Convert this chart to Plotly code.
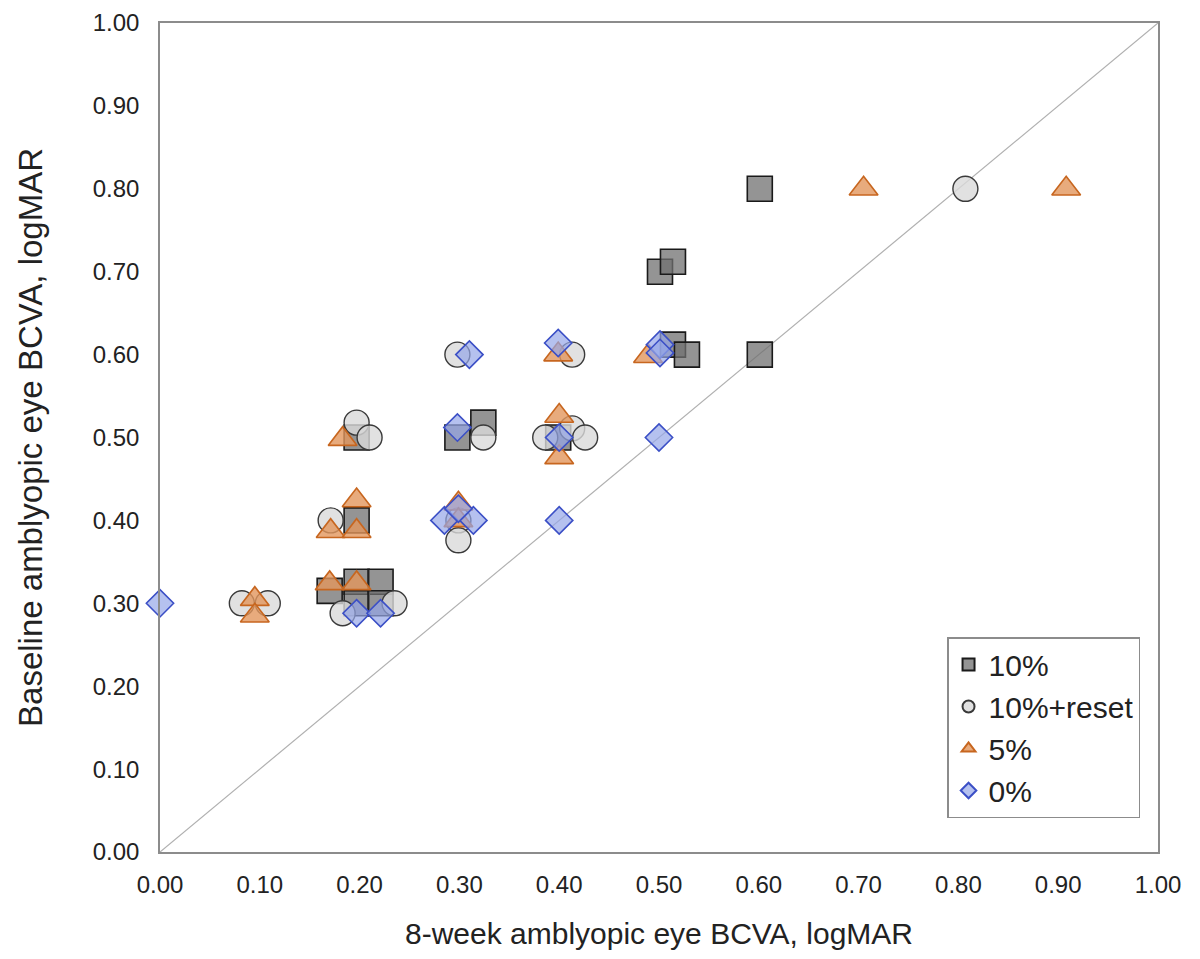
import plotly.graph_objects as go

# 10% group (squares)
sq_x = [0.601, 0.501, 0.514, 0.514, 0.528, 0.601, 0.197, 0.298, 0.324, 0.399, 0.197, 0.170, 0.197, 0.221, 0.197, 0.221]
sq_y = [0.800, 0.700, 0.712, 0.612, 0.600, 0.600, 0.500, 0.500, 0.518, 0.500, 0.400, 0.315, 0.326, 0.326, 0.300, 0.300]

# 10%+reset group (circles)
ci_x = [0.807, 0.298, 0.413, 0.197, 0.210, 0.324, 0.386, 0.413, 0.426, 0.171, 0.299, 0.299, 0.082, 0.108, 0.183, 0.235]
ci_y = [0.800, 0.600, 0.600, 0.518, 0.500, 0.500, 0.500, 0.511, 0.500, 0.400, 0.400, 0.376, 0.300, 0.300, 0.288, 0.300]

# 5% group (triangles)
tr_x = [0.705, 0.908, 0.489, 0.399, 0.183, 0.400, 0.400, 0.197, 0.171, 0.197, 0.299, 0.299, 0.095, 0.095, 0.170, 0.197]
tr_y = [0.800, 0.800, 0.598, 0.600, 0.498, 0.526, 0.476, 0.424, 0.387, 0.387, 0.420, 0.400, 0.305, 0.285, 0.324, 0.324]

# 0% group (diamonds)
di_x = [0.000, 0.197, 0.221, 0.285, 0.314, 0.299, 0.400, 0.500, 0.298, 0.400, 0.310, 0.399, 0.501, 0.501]
di_y = [0.300, 0.288, 0.288, 0.400, 0.400, 0.414, 0.400, 0.500, 0.512, 0.500, 0.600, 0.614, 0.612, 0.602]

# identity line
diag_x = [0, 1]
diag_y = [0, 1]

tick_vals = [i / 10 for i in range(11)]
tick_text = [f"{v:.2f}" for v in tick_vals]

FONT = "Liberation Sans, Arial, sans-serif"

fig = go.Figure()

fig.add_trace(go.Scatter(
    x=diag_x, y=diag_y, mode="lines",
    line=dict(color="#b0b0b0", width=1.2), showlegend=False, hoverinfo="skip"
))

fig.add_trace(go.Scatter(
    x=sq_x, y=sq_y, mode="markers", name="10%", cliponaxis=False,
    marker=dict(symbol="square", size=25, color="rgba(112,112,112,0.75)",
                line=dict(color="#1a1a1a", width=1.6))
))
fig.add_trace(go.Scatter(
    x=ci_x, y=ci_y, mode="markers", name="10%+reset", cliponaxis=False,
    marker=dict(symbol="circle", size=25, color="rgba(218,218,218,0.8)",
                line=dict(color="#3a3a3a", width=1.4))
))
fig.add_trace(go.Scatter(
    x=tr_x, y=tr_y, mode="markers", name="5%", cliponaxis=False,
    marker=dict(symbol="triangle-up", size=25, color="rgba(226,150,92,0.8)",
                line=dict(color="#c7661f", width=1.6))
))
fig.add_trace(go.Scatter(
    x=di_x, y=di_y, mode="markers", name="0%", cliponaxis=False,
    marker=dict(symbol="diamond", size=21, color="rgba(150,166,232,0.7)",
                line=dict(color="#3b4fc6", width=1.6))
))

axis_common = dict(
    range=[0, 1], tickvals=tick_vals, ticktext=tick_text,
    showgrid=False, zeroline=False, showline=True, mirror=True,
    linecolor="#8c8c8c", linewidth=1.5, ticks="", automargin=False,
    ticklabeloverflow="allow",
    tickfont=dict(family=FONT, size=24, color="#222"),
)

fig.update_xaxes(**axis_common, ticklabelstandoff=10,
                 title=dict(text="8-week amblyopic eye BCVA, logMAR",
                            font=dict(family=FONT, size=30, color="#222"), standoff=26))
fig.update_yaxes(**axis_common, ticklabelstandoff=14,
                 title=dict(text="Baseline amblyopic eye BCVA, logMAR",
                            font=dict(family=FONT, size=33, color="#222"), standoff=40))

fig.update_layout(
    width=1200, height=959,
    plot_bgcolor="white", paper_bgcolor="white",
    margin=dict(l=152, r=50, t=15, b=115),
    font=dict(family=FONT, color="#222"),
    legend=dict(
        x=0.982, y=0.041, xanchor="right", yanchor="bottom",
        bordercolor="#8c8c8c", borderwidth=1.5, bgcolor="white",
        font=dict(family=FONT, size=30, color="#222"),
        itemsizing="constant", tracegroupgap=0,
    ),
)

fig.write_html("out.html")
